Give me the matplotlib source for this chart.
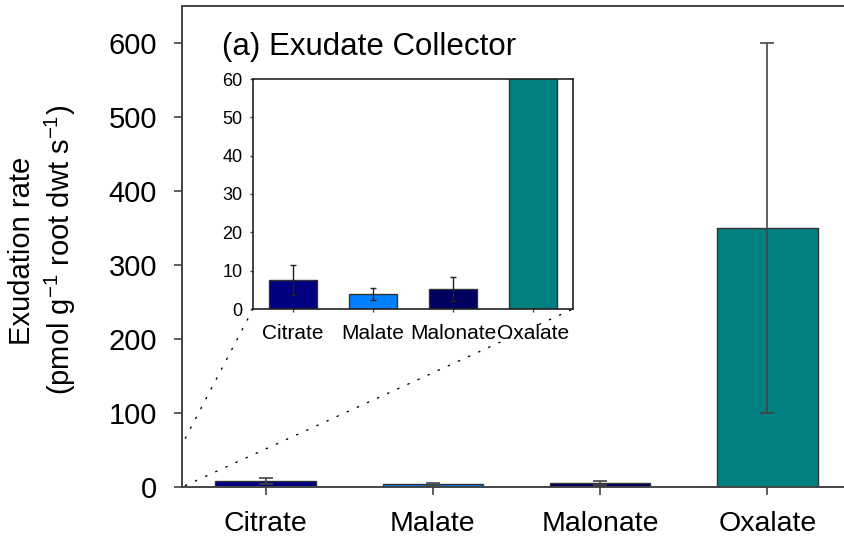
import matplotlib
matplotlib.use("Agg")
import matplotlib.pyplot as plt
from matplotlib.patches import ConnectionPatch

plt.rcParams['font.family'] = ['Liberation Sans', 'DejaVu Sans']
plt.rcParams['mathtext.fontset'] = 'custom'
plt.rcParams['mathtext.rm'] = 'Liberation Sans'

# exudation rates per organic acid, with error bars
acids = ["Citrate", "Malate", "Malonate", "Oxalate"]
rates = [7.6, 3.9, 5.2, 350]
errs = [4.0, 1.5, 3.1, 250]
colors = ["#000080", "#0080ff", "#000060", "#008080"]

x = range(len(acids))
edge = "#333333"

fig = plt.figure(figsize=(8.44, 5.42), dpi=100)
ax = fig.add_axes([182/844, 55/542, 669/844, 481/542])

ax.bar(x, rates, width=0.6, color=colors, edgecolor=edge, linewidth=1.0, zorder=2)
ax.errorbar(x, rates, yerr=errs, fmt='none', ecolor="#444444", elinewidth=1.2,
            capsize=5, capthick=1.2, zorder=3)
ax.set_xlim(-0.5, 3.5)
ax.set_ylim(0, 650)
ax.set_yticks(range(0, 700, 100))
ax.set_xticks(list(x))
ax.set_xticklabels(acids)
ax.tick_params(axis='both', direction='out', length=6, width=1.2, labelsize=21,
               color="#444444")
ax.tick_params(axis='y', pad=12)
ax.tick_params(axis='x', labelsize=20.5, pad=11)
for side in ["left", "top", "bottom", "right"]:
    ax.spines[side].set_color("#444444")
    ax.spines[side].set_linewidth(1.4)

# two-line axis title, drawn as separate rotated lines
fig.text(22/844, 1 - 251/542, "Exudation rate", rotation=90,
         ha='center', va='center', fontsize=21)
fig.text(60/844, 1 - 250/542,
         "(pmol g$^{\\mathregular{-1}}$ root dwt s$^{\\mathregular{-1}}$)",
         rotation=90, ha='center', va='center', fontsize=21)
fig.text(222/844, 1 - 47/542, "(a) Exudate Collector", ha='left', va='center',
         fontsize=22.5)

# zoomed view of the small rates
ins = fig.add_axes([253/844, 1 - 309/542, 320/844, 230/542])
ins.bar(x, rates, width=0.6, color=colors, edgecolor=edge, linewidth=1.0, zorder=2)
ins.errorbar(x, rates, yerr=errs, fmt='none', ecolor="#222222", elinewidth=1.0,
             capsize=2.5, capthick=1.0, zorder=3)
ins.set_xlim(-0.5, 3.5)
ins.set_ylim(0, 60)
ins.set_yticks(range(0, 70, 10))
ins.set_xticks(list(x))
ins.set_xticklabels(acids)
ins.tick_params(axis='both', direction='out', length=2.5, width=1.0,
                color="#444444")
ins.tick_params(axis='y', labelsize=13, pad=5)
ins.tick_params(axis='x', labelsize=15, pad=8)
for side in ["left", "top", "bottom", "right"]:
    ins.spines[side].set_color("#222222")
    ins.spines[side].set_linewidth(1.2)

for (xa, ya), (xb, yb) in [((-0.48, 66), (0, 0)), ((-0.48, 2), (1, 0))]:
    con = ConnectionPatch(xyA=(xa, ya), coordsA=ax.transData,
                          xyB=(xb, yb), coordsB=ins.transAxes,
                          color="black", linewidth=1.0, linestyle=(0, (1, 7)))
    fig.add_artist(con)

fig.savefig("out.png", dpi=100)
